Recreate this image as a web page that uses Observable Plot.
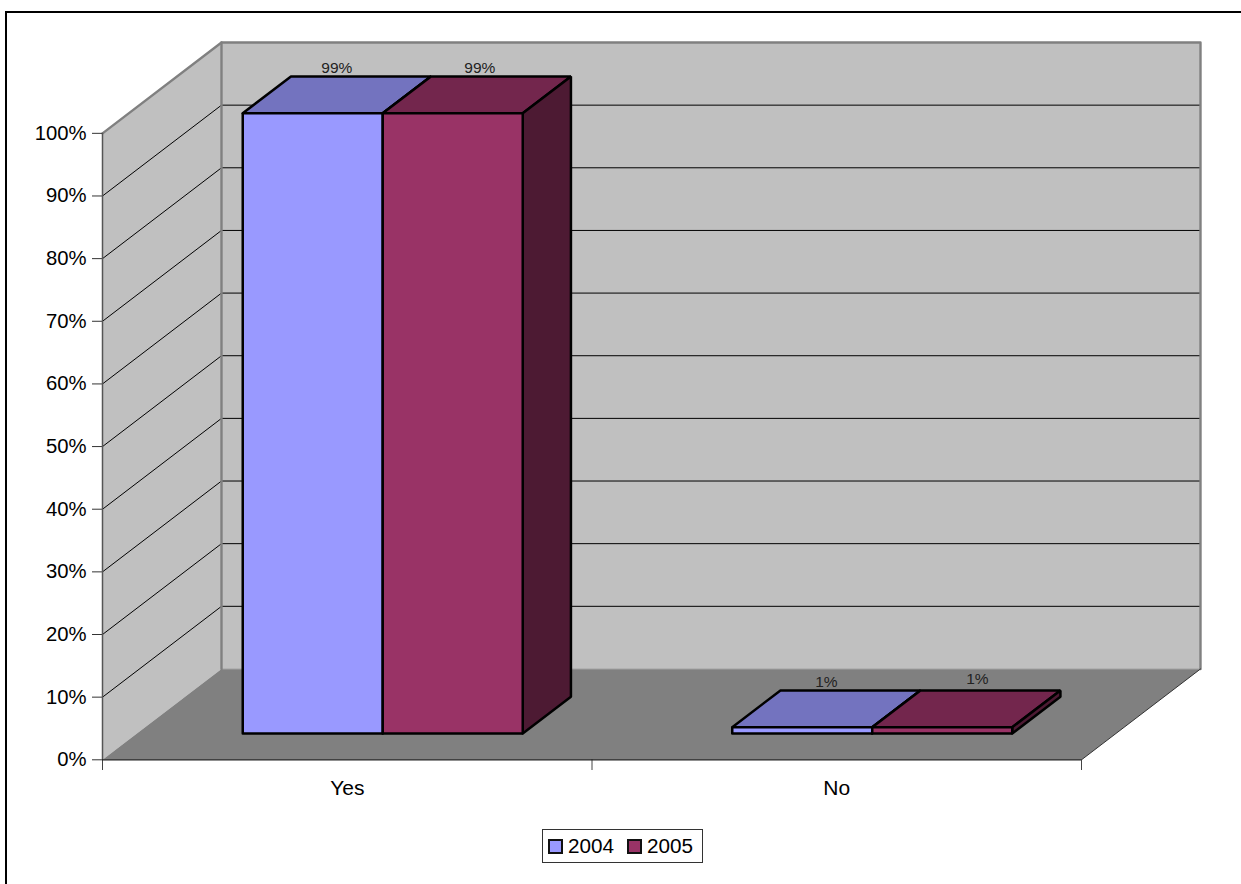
<!DOCTYPE html>
<html><head><meta charset="utf-8">
<script src="https://cdn.jsdelivr.net/npm/d3@7"></script>
<script src="https://cdn.jsdelivr.net/npm/@observablehq/plot@0.6"></script>
<style>
html,body{margin:0;padding:0;background:#fff;}
#page{position:relative;width:1241px;height:884px;overflow:hidden;font-family:"Liberation Sans",Arial,sans-serif;}
#frame{position:absolute;left:5px;top:10.5px;width:1240px;height:880px;border:2px solid #000;box-sizing:border-box;}
#chart{position:absolute;left:0;top:0;}
#legend{position:absolute;left:542px;top:829px;width:161px;height:34px;box-sizing:border-box;border:1px solid #333;background:#fff;font-size:20.7px;color:#000;display:flex;align-items:center;padding-left:5px;}
#legend .sw{width:11px;height:11px;border:2px solid #111;margin-right:5px;}
#legend .it{display:flex;align-items:center;margin-right:13px;}
</style></head><body>
<div id="page"><div id="frame"></div><div id="chart"></div><div id="legend"></div></div>
<script>
const categories = ["Yes", "No"];
const years = ["2004", "2005"];
const values2004 = [99, 1];
const values2005 = [99, 1];
const yTicks = [0, 10, 20, 30, 40, 50, 60, 70, 80, 90, 100];
const gridValues = [10, 20, 30, 40, 50, 60, 70, 80, 90];
const frontColors = ["#9999FF", "#993366"];
const topColors = ["#7373BF", "#73264D"];
const sideColors = ["#4D4D80", "#4D1A33"];

// oblique projection of (category position, value, depth) onto the plot's x and y
const DX = 0.2431, DY = 14.5;
const px = p => p[0] + p[2] * DX;
const py = p => p[1] + p[2] * DY;
const poly = (id, fill, stroke, pts) => [...pts, pts[0]].map(p => ({id, fill, stroke, p}));
const n = categories.length;

const barW = 0.286, gap = 0.216, d0 = 0.29, d1 = 0.695;
const series = [values2004, values2005];
let barRows = [];
categories.forEach((c, i) => {
  series.forEach((vals, s) => {
    const a = i + gap + s * barW, b = a + barW, v = vals[i], k = `${c}${s}`;
    barRows.push(...poly(k + "t", topColors[s], "#000", [[a, v, d0], [a, v, d1], [b, v, d1], [b, v, d0]]));
    barRows.push(...poly(k + "s", sideColors[s], "#000", [[b, 0, d0], [b, 0, d1], [b, v, d1], [b, v, d0]]));
    barRows.push(...poly(k + "f", frontColors[s], "#000", [[a, 0, d0], [b, 0, d0], [b, v, d0], [a, v, d0]]));
  });
});
const seq = barRows;
const walls = [
  ...poly("back", "#C0C0C0", "none", [[0, 0, 1], [n, 0, 1], [n, 100, 1], [0, 100, 1]]),
  ...poly("left", "#C0C0C0", "none", [[0, 0, 0], [0, 0, 1], [0, 100, 1], [0, 100, 0]]),
  ...poly("floor", "#808080", "none", [[0, 0, 0], [n, 0, 0], [n, 0, 1], [0, 0, 1]])
];
const grid = gridValues.flatMap(v => [
  {id: `${v}a`, p: [0, v, 0]}, {id: `${v}a`, p: [0, v, 1]}, {id: `${v}a`, p: [n, v, 1]}
]);
const segs = (id, pts) => pts.map(p => ({id, p}));
const wallEdge = [
  ...segs("e1", [[0, 100, 0], [0, 100, 1], [n, 100, 1], [n, 0, 1]]),
  ...segs("e2", [[0, 100, 1], [0, 0, 1]])
];
const darkEdge = segs("e3", [[n, 0, 1], [n, 0, 0]]);
const lightEdge = segs("e4", [[0, 0, 1], [n, 0, 1]]);
const labels = [
  {v: values2004[0], s: 0, i: 0, dx: 0, dy: -3},
  {v: values2005[0], s: 1, i: 0, dx: 3, dy: -3},
  {v: values2004[1], s: 0, i: 1, dx: 0, dy: -3.5},
  {v: values2005[1], s: 1, i: 1, dx: 11, dy: -6.5}
];

const lineOf = (rows, opts) => Plot.line(rows, {x: d => px(d.p), y: d => py(d.p), z: "id", curve: "linear", ...opts});
const plot = Plot.plot({
  width: 1241, height: 884, style: {background: "transparent"},
  marginLeft: 102, marginRight: 41, marginTop: 42, marginBottom: 125,
  x: {domain: [0, n + DX], range: [102, 1200]},
  y: {domain: [0, 100 + DY], range: [759.3, 42]},
  marks: [
    lineOf(walls.filter(d => d.id !== "floor"), {fill: "fill", stroke: null}),
    lineOf(walls.filter(d => d.id === "floor"), {fill: "fill", stroke: null}),
    lineOf(lightEdge, {stroke: "#a6a6a6", strokeWidth: 1}),
    lineOf(grid, {stroke: "#000", strokeWidth: 1}),
    lineOf(wallEdge, {stroke: "#808080", strokeWidth: 2.4}),
    lineOf(darkEdge, {stroke: "#333", strokeWidth: 1}),
    Plot.axisY({ticks: yTicks, tickSize: 10, tickPadding: 6, tickFormat: d => d + "%", label: null,
      fontSize: 20.3, stroke: "#333", color: "#000", fontFamily: "Liberation Sans"}),
    Plot.ruleX([0], {y1: 0, y2: 100, stroke: "#555", strokeWidth: 1.5}),
    Plot.axisX({ticks: d3.range(n + 1), tickSize: 11, tickFormat: () => "", label: null, stroke: "#444"}),
    Plot.ruleY([0], {x1: 0, x2: n, stroke: "#222", strokeWidth: 1.2}),
    Plot.text(categories, {x: (c, i) => i + 0.5, y: 0, text: d => d, dy: 28, fontSize: 21, fill: "#000", fontFamily: "Liberation Sans"}),
    lineOf(seq, {fill: "fill", stroke: "#000", strokeWidth: 2.5, strokeLinejoin: "miter"}),
    ...labels.map(l => Plot.text([l], {
      x: d => d.i + gap + (d.s + 0.5) * barW + (d0 + d1) / 2 * DX,
      y: d => d.v + d1 * DY, text: d => d.v + "%", lineAnchor: "bottom",
      dx: l.dx, dy: l.dy, fontSize: 15.5, fill: "#222", fontFamily: "Liberation Sans"
    }))
  ]
});
document.getElementById("chart").appendChild(plot);
const legend = document.getElementById("legend");
years.forEach((y, i) => {
  const it = document.createElement("div"); it.className = "it";
  const sw = document.createElement("div"); sw.className = "sw"; sw.style.background = frontColors[i];
  const t = document.createElement("span"); t.textContent = y;
  it.append(sw, t); legend.append(it);
});
</script>
</body></html>
